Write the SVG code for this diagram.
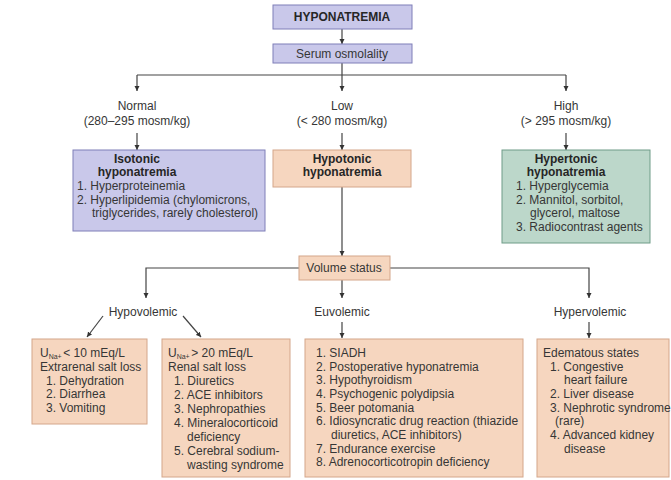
<svg xmlns="http://www.w3.org/2000/svg" width="671" height="480" viewBox="0 0 671 480">
<style>
text{font-family:"Liberation Sans",Arial,Helvetica,sans-serif;font-size:12px;fill:#363636}
.b{font-weight:bold;fill:#262626}
.c{text-anchor:middle}
.lav{fill:#c9c8ea;stroke:#7f7fb8;stroke-width:1}
.pch{fill:#f6d6bf;stroke:#d4a68a;stroke-width:1}
.grn{fill:#bcd7ca;stroke:#6f9c88;stroke-width:1}
.ln{fill:none;stroke:#444;stroke-width:1.2}
.sub{font-size:7px}
</style>
<defs>
<marker id="ah" viewBox="0 0 10 10" refX="10" refY="5" markerWidth="5" markerHeight="6" markerUnits="userSpaceOnUse" orient="auto">
<path d="M0,0 L10,5 L0,10 z" fill="#333"/>
</marker>
</defs>
<rect width="671" height="480" fill="#fff"/>

<g id="connectors">
<line class="ln" x1="342" y1="29" x2="342" y2="44" marker-end="url(#ah)"/>
<polyline class="ln" points="342,63 342,75"/>
<line class="ln" x1="137" y1="75" x2="566" y2="75"/>
<line class="ln" x1="137" y1="75" x2="137" y2="91" marker-end="url(#ah)"/>
<line class="ln" x1="342" y1="75" x2="342" y2="91" marker-end="url(#ah)"/>
<line class="ln" x1="566" y1="75" x2="566" y2="91" marker-end="url(#ah)"/>
<line class="ln" x1="137" y1="133" x2="137" y2="150" marker-end="url(#ah)"/>
<line class="ln" x1="342" y1="133" x2="342" y2="150" marker-end="url(#ah)"/>
<line class="ln" x1="566" y1="133" x2="566" y2="150" marker-end="url(#ah)"/>
<line class="ln" x1="342" y1="187" x2="342" y2="256" marker-end="url(#ah)"/>
<polyline class="ln" points="299,268 146,268 146,298" marker-end="url(#ah)"/>
<polyline class="ln" points="390,268 589,268 589,298" marker-end="url(#ah)"/>
<line class="ln" x1="342" y1="280" x2="342" y2="298" marker-end="url(#ah)"/>
<line class="ln" x1="103" y1="316" x2="87" y2="337" marker-end="url(#ah)"/>
<line class="ln" x1="183" y1="316" x2="201" y2="337" marker-end="url(#ah)"/>
<line class="ln" x1="342" y1="322" x2="342" y2="338" marker-end="url(#ah)"/>
<line class="ln" x1="589" y1="322" x2="589" y2="338" marker-end="url(#ah)"/>
</g>

<g id="hyponatremia">
<rect class="lav" x="273" y="5" width="139" height="24"/>
<text class="b c" x="342" y="21">HYPONATREMIA</text>
</g>
<g id="serum-osmolality">
<rect class="lav" x="273" y="44" width="139" height="19"/>
<text class="c" x="342" y="58">Serum osmolality</text>
</g>

<g id="normal">
<text class="c" x="137" y="110">Normal</text>
<text class="c" x="137" y="125">(280–295 mosm/kg)</text>
</g>
<g id="low">
<text class="c" x="342" y="110">Low</text>
<text class="c" x="342" y="125">(&lt; 280 mosm/kg)</text>
</g>
<g id="high">
<text class="c" x="566" y="110">High</text>
<text class="c" x="566" y="125">(&gt; 295 mosm/kg)</text>
</g>

<g id="isotonic">
<rect class="lav" x="73" y="150" width="192" height="81"/>
<text class="b c" x="137" y="163">Isotonic</text>
<text class="b c" x="137" y="176">hyponatremia</text>
<text x="77" y="190">1. Hyperproteinemia</text>
<text x="77" y="204">2. Hyperlipidemia (chylomicrons,</text>
<text x="92" y="217">triglycerides, rarely cholesterol)</text>
</g>

<g id="hypotonic">
<rect class="pch" x="273" y="150" width="138" height="37"/>
<text class="b c" x="342" y="163">Hypotonic</text>
<text class="b c" x="342" y="176">hyponatremia</text>
</g>

<g id="hypertonic">
<rect class="grn" x="502" y="150" width="148" height="93"/>
<text class="b c" x="566" y="163">Hypertonic</text>
<text class="b c" x="566" y="176">hyponatremia</text>
<text x="516" y="190">1. Hyperglycemia</text>
<text x="516" y="204">2. Mannitol, sorbitol,</text>
<text x="530" y="217">glycerol, maltose</text>
<text x="516" y="231">3. Radiocontrast agents</text>
</g>

<g id="volume-status">
<rect class="pch" x="299" y="256" width="91" height="24"/>
<text class="c" x="344" y="272">Volume status</text>
</g>

<g id="hypovolemic">
<text class="c" x="143" y="316">Hypovolemic</text>
</g>
<g id="euvolemic">
<text class="c" x="342" y="316">Euvolemic</text>
</g>
<g id="hypervolemic">
<text class="c" x="590" y="316">Hypervolemic</text>
</g>

<g id="extrarenal">
<rect class="pch" x="32" y="339" width="115" height="85"/>
<text x="40" y="357">U<tspan class="sub" dy="2">Na+</tspan><tspan dx="1.5" dy="-2">&lt; 10 mEq/L</tspan></text>
<text x="40" y="371">Extrarenal salt loss</text>
<text x="46" y="385">1. Dehydration</text>
<text x="46" y="398">2. Diarrhea</text>
<text x="46" y="412">3. Vomiting</text>
</g>

<g id="renal">
<rect class="pch" x="162" y="339" width="128" height="138"/>
<text x="168" y="357">U<tspan class="sub" dy="2">Na+</tspan><tspan dx="1.5" dy="-2">&gt; 20 mEq/L</tspan></text>
<text x="168" y="371">Renal salt loss</text>
<text x="174" y="385">1. Diuretics</text>
<text x="174" y="399">2. ACE inhibitors</text>
<text x="174" y="413">3. Nephropathies</text>
<text x="174" y="427">4. Mineralocorticoid</text>
<text x="187" y="441">deficiency</text>
<text x="174" y="455">5. Cerebral sodium-</text>
<text x="187" y="469">wasting syndrome</text>
</g>

<g id="euvolemic-causes">
<rect class="pch" x="305" y="339" width="218" height="138"/>
<text x="316" y="357">1. SIADH</text>
<text x="316" y="371">2. Postoperative hyponatremia</text>
<text x="316" y="384">3. Hypothyroidism</text>
<text x="316" y="398">4. Psychogenic polydipsia</text>
<text x="316" y="412">5. Beer potomania</text>
<text x="316" y="425">6. Idiosyncratic drug reaction (thiazide</text>
<text x="331" y="439">diuretics, ACE inhibitors)</text>
<text x="316" y="453">7. Endurance exercise</text>
<text x="316" y="466">8. Adrenocorticotropin deficiency</text>
</g>

<g id="hypervolemic-causes">
<rect class="pch" x="537" y="339" width="132" height="138"/>
<text x="543" y="357">Edematous states</text>
<text x="550" y="371">1. Congestive</text>
<text x="564" y="384">heart failure</text>
<text x="550" y="398">2. Liver disease</text>
<text x="550" y="412">3. Nephrotic syndrome</text>
<text x="555" y="425">(rare)</text>
<text x="550" y="439">4. Advanced kidney</text>
<text x="564" y="453">disease</text>
</g>
</svg>
